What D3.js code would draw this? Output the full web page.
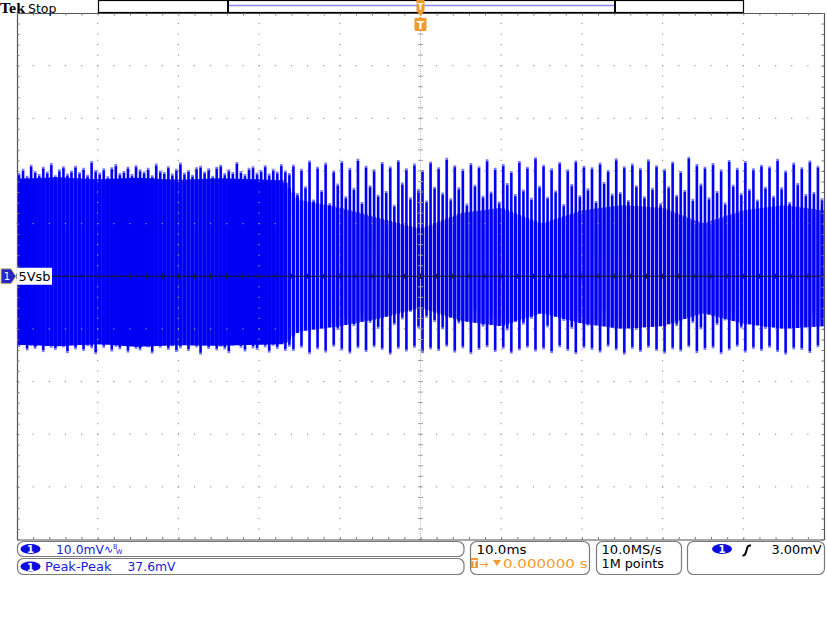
<!DOCTYPE html>
<html><head><meta charset="utf-8">
<script src="https://cdn.jsdelivr.net/npm/d3@7"></script>
<style>html,body{margin:0;padding:0;background:#fff;}svg{display:block;}</style>
</head><body><svg id="c" width="827" height="620"></svg>
<script>
// ---------------- DATA ----------------
const timeDomainMs = [-50, 50];      // 10.0 ms/div, 10 divisions
const voltDomainMv = [-50, 50];      // 10.0 mV/div, 10 divisions
const bucketMs = 0.5;                // width of one waveform bucket (ms)
const denseUntilMs = -16.5;          // left part of record is a solid band
const triggerTimeMs = 0;
const channelLabel = "5Vsb";

// upper spike tips per bucket (mV)
const spikeHighMv = [
19.6,20.4,19.1,21.2,20.0,19.4,20.8,19.9,21.5,19.2,20.3,20.9,19.5,20.1,21.0,19.8,20.6,19.3,21.9,20.2,
19.7,20.5,19.0,20.7,21.3,19.6,20.0,20.8,19.4,21.1,20.3,19.9,20.6,19.2,21.4,20.1,19.8,20.9,19.5,20.4,
21.6,19.7,20.2,19.3,20.7,21.0,19.9,20.5,19.1,20.8,21.2,19.6,20.3,19.8,21.7,20.0,19.4,20.6,20.9,19.7,
20.2,21.1,19.5,20.4,19.9,21.3,20.1,19.6,
21.2,15.8,20.4,17.1,22.0,14.6,20.8,16.4,21.6,13.9,20.1,17.6,21.9,15.2,20.6,16.8,22.3,14.1,21.0,17.3,
20.3,15.5,21.7,16.2,20.9,13.6,22.1,17.8,20.5,15.0,21.4,16.6,20.2,14.4,21.8,17.0,20.7,15.9,22.5,14.8,
21.1,16.9,20.4,13.8,21.5,17.4,20.9,15.3,22.2,16.1,20.6,14.2,21.3,17.7,20.0,15.6,21.9,16.5,20.8,14.9,
22.6,17.2,21.2,15.1,20.5,16.3,21.7,13.7,20.3,17.5,22.0,15.4,21.0,16.7,20.7,14.3,21.6,17.9,20.2,15.7,
22.4,16.0,20.9,14.5,21.4,17.3,20.6,15.2,22.2,16.8,21.1,13.9,20.4,17.1,21.8,15.5,20.0,16.4,22.7,14.7,
21.3,17.6,20.8,15.0,21.5,16.2,20.3,14.0,22.1,17.4,20.6,15.8,21.9,16.6,20.5,14.6,21.2,17.0,20.9,15.3,
22.3,16.9,20.1,14.1,21.6,17.7,20.7,15.6,22.0,16.0,21.0,14.8
];
// lower spike tips per bucket (mV)
const spikeLowMv = [
-13.4,-12.9,-14.1,-13.2,-13.8,-12.7,-14.4,-13.0,-13.6,-14.0,-12.8,-13.5,-14.6,-13.1,-13.9,-12.9,-14.2,-13.3,-13.7,-14.8,
-13.0,-13.6,-12.8,-14.3,-13.4,-13.9,-12.7,-14.5,-13.2,-13.8,-14.1,-12.9,-13.5,-14.7,-13.1,-13.6,-12.8,-14.0,-13.3,-14.4,
-13.7,-12.9,-14.2,-13.0,-13.5,-14.9,-13.2,-13.8,-12.7,-14.1,-13.4,-13.9,-14.6,-13.1,-12.8,-13.6,-14.3,-13.0,-13.7,-14.0,
-12.9,-13.5,-14.5,-13.2,-13.8,-12.8,-14.2,-13.4,
-14.2,-8.6,-13.6,-9.8,-14.8,-7.4,-13.9,-9.1,-14.5,-6.9,-13.4,-10.2,-14.1,-8.0,-14.7,-9.5,-13.7,-7.2,-14.4,-8.9,
-13.5,-10.0,-14.0,-7.7,-14.9,-9.3,-13.8,-8.2,-14.3,-6.8,-13.6,-9.9,-14.6,-7.9,-13.9,-8.7,-14.2,-10.1,-13.4,-7.5,
-14.5,-9.0,-13.7,-8.4,-14.8,-6.6,-14.0,-9.6,-13.5,-7.8,-14.4,-8.8,-13.8,-10.3,-14.7,-7.3,-14.1,-9.2,-13.6,-8.1,
-14.3,-6.9,-13.9,-9.7,-14.6,-7.6,-13.5,-8.5,-14.2,-10.0,-14.8,-7.1,-13.7,-9.4,-14.0,-8.3,-14.5,-6.7,-13.4,-9.8,
-14.1,-7.9,-14.9,-8.6,-13.8,-10.2,-14.4,-7.4,-13.6,-9.1,-14.2,-8.0,-14.7,-6.8,-13.9,-9.5,-14.3,-7.7,-13.5,-8.9,
-14.6,-10.1,-14.0,-7.2,-13.7,-9.3,-14.8,-8.4,-14.1,-6.6,-13.4,-9.9,-14.5,-7.8,-13.8,-8.2,-14.2,-10.0,-13.6,-7.5,
-14.4,-9.0,-14.9,-8.7,-13.9,-6.9,-14.0,-9.6,-14.6,-7.3,-13.5,-8.5
];
// dense core band of the waveform
const coreTimeMs = [-50,-45,-40,-35,-30,-25,-20,-17,-15,-10,-5,0,5,10,15,20,25,30,35,40,45,50];
const coreHighMv = [18.5,18.8,18.4,18.7,18.3,18.6,18.4,18.2,14.5,13.0,11.0,9.0,12.0,13.0,10.0,12.5,13.5,13.0,10.0,12.5,13.5,12.5];
const coreLowMv  = [-13.0,-13.3,-12.9,-13.4,-13.1,-13.2,-13.0,-12.9,-10.5,-9.5,-8.0,-6.0,-8.5,-9.5,-7.0,-9.0,-10.0,-9.5,-7.0,-9.0,-10.0,-9.5];

// readouts
const scaleText = "10.0mV";
const measureName = "Peak-Peak";
const measureValue = "37.6mV";
const timebaseText = "10.0ms";
const triggerPosText = "0.000000 s";
const sampleRateText = "10.0MS/s";
const recordText = "1M points";
const trigLevelText = "3.00mV";

// ---------------- DRAW ----------------
const svg = d3.select("#c");
const X0 = 17, X1 = 824, Y0 = 13, Y1 = 539.5;
const x = d3.scaleLinear().domain(timeDomainMs).range([X0, X1]);
const y = d3.scaleLinear().domain(voltDomainMv).range([Y1, Y0]);
const coreHi = d3.scaleLinear().domain(coreTimeMs).range(coreHighMv);
const coreLo = d3.scaleLinear().domain(coreTimeMs).range(coreLowMv);
const BLUE = "#0000f5", LBLUE = "#7c7cff", ORANGE = "#f29a2e", TXTBLUE = "#1c1cd6";

svg.append("rect").attr("width", 827).attr("height", 620).attr("fill", "#fff");

// waveform
svg.append("clipPath").attr("id", "pc").append("rect")
  .attr("x", X0).attr("y", Y0).attr("width", X1 - X0).attr("height", Y1 - Y0);
const wave = svg.append("g").attr("clip-path", "url(#pc)");
const buckets = spikeHighMv.map((h, i) => {
  const t = timeDomainMs[0] + (i + 0.5) * bucketMs;
  return {t, hi: h, lo: spikeLowMv[i], chi: coreHi(t), clo: coreLo(t), dense: t < denseUntilMs};
});
wave.selectAll("line.lt").data(buckets).join("line").attr("class", "lt")
  .attr("x1", d => x(d.t)).attr("x2", d => x(d.t))
  .attr("y1", d => y(d.hi)).attr("y2", d => y(d.lo))
  .attr("stroke", LBLUE).attr("stroke-width", 2.8);
wave.selectAll("line.dk").data(buckets).join("line").attr("class", "dk")
  .attr("x1", d => x(d.t)).attr("x2", d => x(d.t))
  .attr("y1", d => y(d.hi - 0.4)).attr("y2", d => y(d.lo + 0.4))
  .attr("stroke", BLUE).attr("stroke-width", 2.3);
wave.selectAll("line.core").data(buckets).join("line").attr("class", "core")
  .attr("x1", d => x(d.t)).attr("x2", d => x(d.t))
  .attr("y1", d => y(d.chi)).attr("y2", d => y(d.clo))
  .attr("stroke", BLUE).attr("stroke-width", d => d.dense ? 4.3 : 3.4);

// graticule dots
const g = svg.append("g");
const hLines = d3.range(-40, 41, 10).filter(v => v !== 0);
const vLines = d3.range(-40, 41, 10).filter(v => v !== 0);
hLines.forEach(v => {
  d3.range(-50, 50.01, 2).forEach(t => {
    g.append("rect").attr("x", x(t) - 0.6).attr("y", y(v) - 0.6).attr("width", 1.2).attr("height", 1.2).attr("fill", "#9a9a9a");
  });
});
vLines.forEach(t => {
  d3.range(-50, 50.01, 2).forEach(v => {
    g.append("rect").attr("x", x(t) - 0.6).attr("y", y(v) - 0.6).attr("width", 1.2).attr("height", 1.2).attr("fill", "#9a9a9a");
  });
});
// center vertical
g.append("line").attr("x1", x(0)).attr("x2", x(0)).attr("y1", Y0).attr("y2", Y1)
  .attr("stroke", "#c4c4c4").attr("stroke-width", 1).attr("stroke-dasharray", "1,1");
d3.range(-50, 50.01, 2).forEach(v => {
  g.append("line").attr("x1", x(0) - 2.5).attr("x2", x(0) + 2.5).attr("y1", y(v)).attr("y2", y(v))
    .attr("stroke", "#a0a0a0").attr("stroke-width", 1);
});
// center horizontal (channel baseline)
g.append("line").attr("x1", X0).attr("x2", X1).attr("y1", y(0)).attr("y2", y(0))
  .attr("stroke", "#1a1a1a").attr("stroke-width", 1);
d3.range(-50, 50.01, 2).forEach(t => {
  g.append("line").attr("x1", x(t)).attr("x2", x(t)).attr("y1", y(0) - 2.5).attr("y2", y(0) + 2.5)
    .attr("stroke", "#1a1a1a").attr("stroke-width", 1);
});
// border with inner ticks (axes)
const tv = d3.range(-50, 50.01, 2);
const axT = d3.axisBottom(x).tickValues(tv).tickSize(2.5).tickFormat("");
const axB = d3.axisTop(x).tickValues(tv).tickSize(2.5).tickFormat("");
const axL = d3.axisRight(y).tickValues(tv).tickSize(2.5).tickFormat("");
const axR = d3.axisLeft(y).tickValues(tv).tickSize(2.5).tickFormat("");
[[axT, `translate(0,${Y0})`], [axB, `translate(0,${Y1})`], [axL, `translate(${X0},0)`], [axR, `translate(${X1},0)`]]
  .forEach(([a, tr]) => {
    const ga = svg.append("g").attr("transform", tr).call(a.tickSizeOuter(0));
    ga.select(".domain").attr("stroke", "#555").attr("stroke-width", 1.2);
    ga.selectAll(".tick line").attr("stroke", "#777");
  });

// top bar
svg.append("text").attr("x", 0).attr("y", 12.5).text("Tek")
  .attr("font-family", "Liberation Serif").attr("font-weight", "bold").attr("font-size", 15).attr("fill", "#000")
  .attr("textLength", 25).attr("lengthAdjust", "spacingAndGlyphs");
svg.append("text").attr("x", 28).attr("y", 12.5).text("Stop")
  .attr("font-family", "DejaVu Sans").attr("font-size", 13).attr("fill", "#000")
  .attr("textLength", 28.5).attr("lengthAdjust", "spacingAndGlyphs");
svg.append("rect").attr("x", 98.5).attr("y", 0.5).attr("width", 645).attr("height", 12)
  .attr("fill", "#fff").attr("stroke", "#000").attr("stroke-width", 1.2);
svg.append("line").attr("x1", 229).attr("x2", 614).attr("y1", 5.5).attr("y2", 5.5)
  .attr("stroke", "#8a8aff").attr("stroke-width", 1.5);
[228, 615].forEach(px => svg.append("line").attr("x1", px).attr("x2", px).attr("y1", 0).attr("y2", 13)
  .attr("stroke", "#000").attr("stroke-width", 2));

// trigger markers
const tx = x(triggerTimeMs);
svg.append("path").attr("d", `M${tx - 4},0 L${tx + 4},0 L${tx + 4},11 L${tx},16 L${tx - 4},11 Z`).attr("fill", ORANGE);
svg.append("text").attr("x", tx).attr("y", 10).attr("text-anchor", "middle").text("T")
  .attr("font-family", "DejaVu Sans").attr("font-weight", "bold").attr("font-size", 8).attr("fill", "#fff");
svg.append("path").attr("d", `M${tx - 6},19 Q${tx - 6},18 ${tx - 5},18 L${tx - 1.5},18 L${tx},16.5 L${tx + 1.5},18 L${tx + 5},18 Q${tx + 6},18 ${tx + 6},19 L${tx + 6},29.5 Q${tx + 6},31 ${tx + 4.5},31 L${tx - 4.5},31 Q${tx - 6},31 ${tx - 6},29.5 Z`)
  .attr("fill", ORANGE);
svg.append("text").attr("x", tx).attr("y", 29).attr("text-anchor", "middle").text("T")
  .attr("font-family", "DejaVu Sans").attr("font-weight", "bold").attr("font-size", 11).attr("fill", "#fff");

// channel marker
const cy = y(0);
svg.append("path").attr("d", `M1,${cy - 7.5} L11,${cy - 7.5} L16,${cy} L11,${cy + 7.5} L1,${cy + 7.5} Z`)
  .attr("fill", "#2626c8").attr("stroke", "#d8c27a").attr("stroke-width", 1);
svg.append("text").attr("x", 7).attr("y", cy + 4).attr("text-anchor", "middle").text("1")
  .attr("font-family", "DejaVu Sans").attr("font-size", 10).attr("fill", "#fff");
svg.append("rect").attr("x", 17).attr("y", cy - 8.5).attr("width", 35).attr("height", 17).attr("fill", "#fff");
svg.append("text").attr("x", 18.5).attr("y", cy + 5).text(channelLabel)
  .attr("font-family", "DejaVu Sans").attr("font-size", 13).attr("fill", "#000")
  .attr("textLength", 32).attr("lengthAdjust", "spacingAndGlyphs");

// bottom readout boxes
const boxes = [[17.5, 541.5, 446.5, 15], [17.5, 558.5, 446.5, 16], [470.5, 541.5, 119, 33], [596.5, 541.5, 85, 33], [687.5, 541.5, 137, 33]];
boxes.forEach(b => svg.append("rect").attr("x", b[0]).attr("y", b[1]).attr("width", b[2]).attr("height", b[3])
  .attr("rx", 6).attr("fill", "#fff").attr("stroke", "#7a7a7a").attr("stroke-width", 1.2));
function oval(cx, cyy) {
  svg.append("ellipse").attr("cx", cx).attr("cy", cyy).attr("rx", 10).attr("ry", 5).attr("fill", "#0c0ce0");
  svg.append("text").attr("x", cx).attr("y", cyy + 4).attr("text-anchor", "middle").text("1")
    .attr("font-family", "DejaVu Sans").attr("font-weight", "bold").attr("font-size", 10).attr("fill", "#fff");
}
function txt(s, px, py, w, col) {
  return svg.append("text").attr("x", px).attr("y", py).text(s)
    .attr("font-family", "DejaVu Sans").attr("font-size", 12).attr("fill", col)
    .attr("textLength", w).attr("lengthAdjust", "spacingAndGlyphs");
}
oval(30.5, 549); oval(30.5, 566.5); oval(722, 549);
txt(scaleText, 56, 553.5, 48, TXTBLUE);
svg.append("text").attr("x", 104).attr("y", 553).text("∿").attr("font-family", "DejaVu Sans").attr("font-size", 11).attr("fill", TXTBLUE);
svg.append("text").attr("x", 113).attr("y", 549).text("B").attr("font-family", "DejaVu Sans").attr("font-size", 6.5).attr("fill", TXTBLUE);
svg.append("text").attr("x", 116).attr("y", 554).text("W").attr("font-family", "DejaVu Sans").attr("font-size", 6.5).attr("fill", TXTBLUE);
txt(measureName, 45, 571, 66.5, TXTBLUE);
txt(measureValue, 127.5, 571, 48, TXTBLUE);
txt(timebaseText, 476.5, 553.5, 50, "#000");
svg.append("rect").attr("x", 471).attr("y", 558).attr("width", 7).attr("height", 10).attr("fill", ORANGE);
svg.append("text").attr("x", 474.5).attr("y", 566.5).attr("text-anchor", "middle").text("T")
  .attr("font-family", "DejaVu Sans").attr("font-weight", "bold").attr("font-size", 8).attr("fill", "#fff");
svg.append("text").attr("x", 479).attr("y", 567.5).text("→").attr("font-family", "DejaVu Sans").attr("font-size", 11).attr("fill", ORANGE);
svg.append("path").attr("d", "M493,560 L501,560 L497,566 Z").attr("fill", ORANGE);
txt(triggerPosText, 503, 568, 84.5, ORANGE);
txt(sampleRateText, 601.5, 553.5, 60, "#000");
txt(recordText, 601.5, 568, 62.5, "#000");
svg.append("path").attr("d", "M742.5,555.5 Q745,556 746,552 L747.5,547 Q748.5,545 751,545.5")
  .attr("fill", "none").attr("stroke", "#000").attr("stroke-width", 2);
txt(trigLevelText, 771.5, 553.5, 50, "#000");
</script></body></html>
